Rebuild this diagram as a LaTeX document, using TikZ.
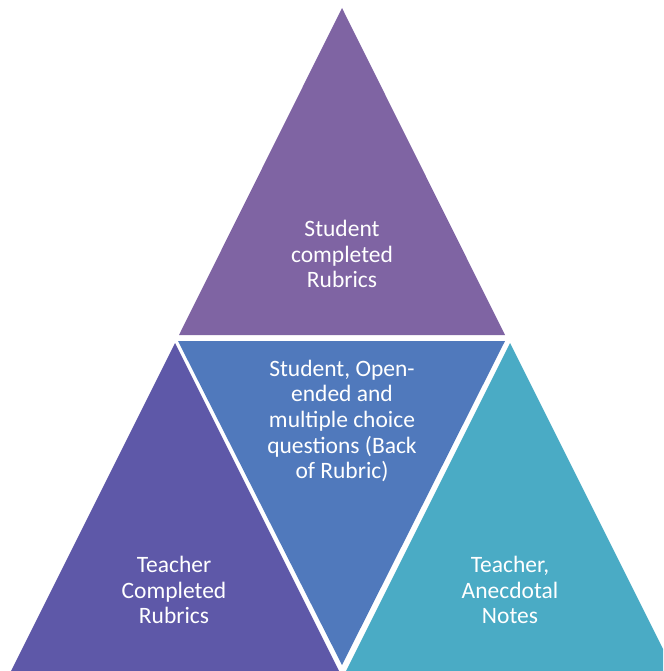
\documentclass[tikz,border=0pt]{standalone}
\usepackage{fontspec}
\setmainfont{Carlito}
\definecolor{ctop}{HTML}{7F64A3}
\definecolor{cleft}{HTML}{5E58A8}
\definecolor{cmid}{HTML}{5079BC}
\definecolor{cright}{HTML}{4AABC5}
\begin{document}
\begin{tikzpicture}[x=1pt,y=-1pt,
  lbl/.style={text=white,align=center,font=\fontsize{23.5}{25.6}\selectfont,inner sep=0pt}]
\useasboundingbox (0,0) rectangle (663,671);
\clip (0,0) rectangle (663,671);
% top
\coordinate (ta) at (342,8);
\coordinate (tl) at (179,335);
\coordinate (tr) at (505,335);
\fill[ctop] (ta) -- (tl) -- (tr) -- cycle;
% left
\coordinate (la) at (175,343);
\coordinate (ll) at (11,671);
\coordinate (lr) at (339,671);
\fill[cleft] (la) -- (ll) -- (lr) -- cycle;
% middle inverted
\coordinate (ml) at (178,341);
\coordinate (mr) at (505,341);
\coordinate (mb) at (342,665);
\fill[cmid] (ml) -- (mr) -- (mb) -- cycle;
% right
\coordinate (ra) at (510,343);
\coordinate (rl) at (346,671);
\coordinate (rr) at (674,671);
\fill[cright] (ra) -- (rl) -- (rr) -- cycle;
% labels
\node[lbl] (t1) at (342,254) {Student\\completed\\Rubrics};
\node[lbl] (t2) at (342,421) {Student, Open-\\ended and\\multiple choice\\questions (Back\\of Rubric)};
\node[lbl] (t3) at (174,590) {Teacher\\Completed\\Rubrics};
\node[lbl] (t4) at (510,590) {Teacher,\\Anecdotal\\Notes};
\end{tikzpicture}
\end{document}
